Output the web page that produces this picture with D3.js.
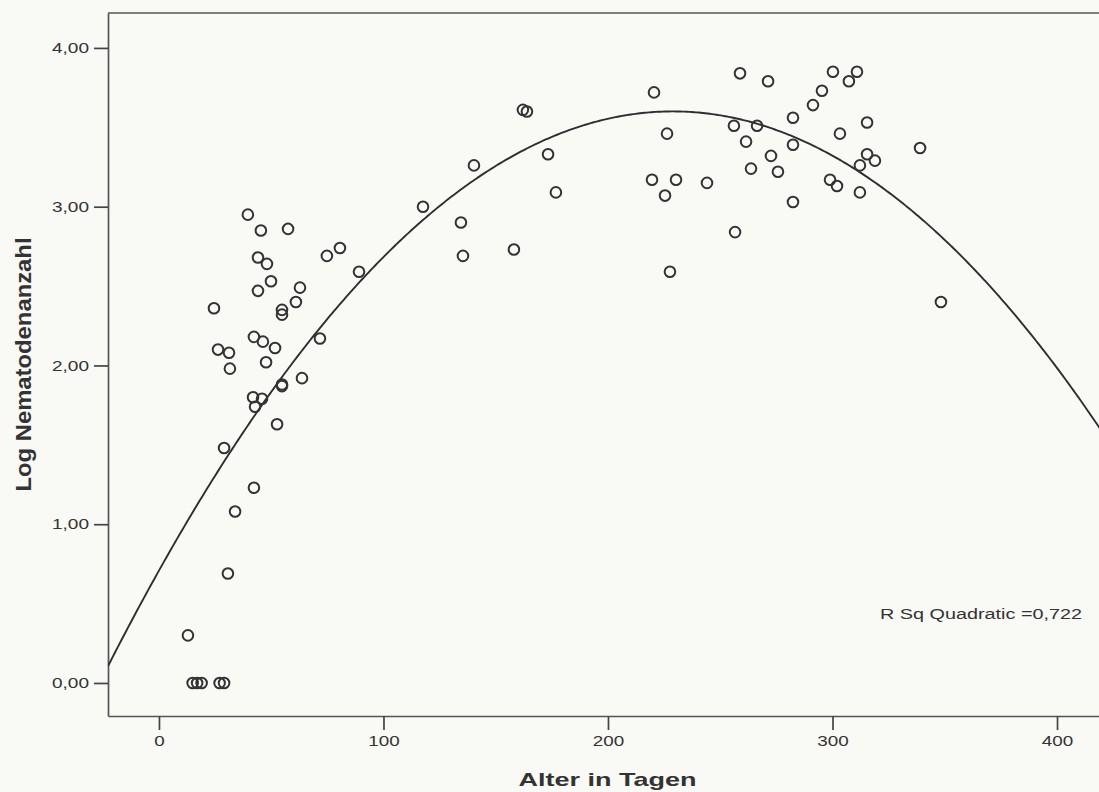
<!DOCTYPE html>
<html lang="de">
<head>
<meta charset="UTF-8">
<title>Log Nematodenanzahl nach Alter</title>
<script src="https://cdn.jsdelivr.net/npm/d3@7"></script>
<style>
body { margin: 0; background: #f9f9f6; }
text { font-family: "Liberation Sans", Arial, sans-serif; fill: #333; }
</style>
</head>
<body>
<div id="chart"></div>
<script>
// Alter in Tagen (x) und Log Nematodenanzahl (y)
const ages = [
  12.9, 15, 17, 19, 27, 29, 30.7, 33.9, 42.3, 29, 52.6, 42.8, 41.9, 45.9, 54.8, 54.8,
  63.7, 31.6, 47.7, 26.3, 31.2, 51.7, 46.3, 42.3, 71.7, 24.5, 54.8, 54.8, 61, 44.1,
  62.8, 49.9, 48.1, 44.1, 45.4, 57.5, 39.6, 74.8, 80.6, 89.1,
  117.6, 134.5, 135.4, 140.3, 158.1, 162.1, 163.9, 173.3, 176.8,
  219.6, 220.5, 225.4, 226.3, 227.6, 230.3, 244.1, 256.1, 256.6, 258.8, 261.5, 263.7,
  266.4, 271.3, 272.6, 275.7, 282.4, 282.4, 282.4, 291.3, 295.3, 298.9, 300.2, 302,
  303.3, 307.3, 310.9, 312.2, 312.2, 315.4, 315.4, 318.9, 339, 348.3
];
const logCounts = [
  0.30, 0, 0, 0, 0, 0, 0.69, 1.08, 1.23, 1.48, 1.63, 1.74, 1.80, 1.79, 1.88, 1.87,
  1.92, 1.98, 2.02, 2.10, 2.08, 2.11, 2.15, 2.18, 2.17, 2.36, 2.35, 2.32, 2.40, 2.47,
  2.49, 2.53, 2.64, 2.68, 2.85, 2.86, 2.95, 2.69, 2.74, 2.59,
  3.00, 2.90, 2.69, 3.26, 2.73, 3.61, 3.60, 3.33, 3.09,
  3.17, 3.72, 3.07, 3.46, 2.59, 3.17, 3.15, 3.51, 2.84, 3.84, 3.41, 3.24,
  3.51, 3.79, 3.32, 3.22, 3.56, 3.39, 3.03, 3.64, 3.73, 3.17, 3.85, 3.13,
  3.46, 3.79, 3.85, 3.26, 3.09, 3.53, 3.33, 3.29, 3.37, 2.40
];

// quadratische Anpassung: y = b0 + b1*x + b2*x^2
const fitCoef = [0.708, 0.02527, -0.0000552];
const rSquareLabel = "R Sq Quadratic =0,722";

const xTicks = [0, 100, 200, 300, 400];
const yTicks = [0, 1, 2, 3, 4];

const width = 1099;
const height = 792;
const margin = {top: 13, right: 0, bottom: 76, left: 108};

const x = d3.scaleLinear()
  .domain([-22.7, 418.7])
  .range([margin.left, width - margin.right]);
const y = d3.scaleLinear()
  .domain([-0.208, 4.22])
  .range([height - margin.bottom, margin.top]);

const de = d3.formatLocale({decimal: ",", thousands: ".", grouping: [3], currency: ["", " €"]});
const fmt2 = de.format(".2f");

const svg = d3.select("#chart").append("svg")
  .attr("width", width)
  .attr("height", height);

svg.append("defs").append("clipPath")
  .attr("id", "plot-clip")
  .append("rect")
  .attr("x", margin.left)
  .attr("y", margin.top)
  .attr("width", width - margin.left - margin.right)
  .attr("height", height - margin.top - margin.bottom);

// Achsen
const xAxis = svg.append("g")
  .attr("transform", `translate(0,${height - margin.bottom})`)
  .call(d3.axisBottom(x).tickValues(xTicks).tickSize(14).tickSizeOuter(0).tickPadding(6));
const yAxis = svg.append("g")
  .attr("transform", `translate(${margin.left},0)`)
  .call(d3.axisLeft(y).tickValues(yTicks).tickFormat(fmt2).tickSize(14).tickSizeOuter(0).tickPadding(5));

[xAxis, yAxis].forEach(g => {
  g.select(".domain").attr("stroke", "#555").attr("stroke-width", 1.7);
  g.selectAll(".tick line").attr("stroke", "#444").attr("stroke-width", 1.7);
  g.selectAll(".tick text")
    .attr("fill", "#333")
    .style("font-size", "14.5px")
    .attr("font-family", null);
});
xAxis.selectAll(".tick text").attr("transform", "scale(1.3,1)");
yAxis.selectAll(".tick text").attr("textLength", 37).attr("lengthAdjust", "spacingAndGlyphs");

// Rahmen oben
svg.append("line")
  .attr("x1", margin.left).attr("x2", width)
  .attr("y1", margin.top).attr("y2", margin.top)
  .attr("stroke", "#555").attr("stroke-width", 1.7);

const plot = svg.append("g").attr("clip-path", "url(#plot-clip)");

// Regressionskurve
const fitX = d3.range(x.domain()[0], x.domain()[1] + 1, 1);
const fitLine = d3.line()
  .x(d => x(d))
  .y(d => y(fitCoef[0] + fitCoef[1] * d + fitCoef[2] * d * d));
plot.append("path")
  .datum(fitX)
  .attr("fill", "none")
  .attr("stroke", "#2e2e2e")
  .attr("stroke-width", 1.9)
  .attr("d", fitLine);

// Datenpunkte
plot.selectAll("circle")
  .data(ages.map((a, i) => ({age: a, val: logCounts[i]})))
  .join("circle")
  .attr("cx", d => x(d.age))
  .attr("cy", d => y(d.val))
  .attr("r", 5.3)
  .attr("fill", "none")
  .attr("stroke", "#333")
  .attr("stroke-width", 2);

// R Quadrat
svg.append("text")
  .attr("x", 880)
  .attr("y", 619)
  .attr("textLength", 202)
  .attr("lengthAdjust", "spacingAndGlyphs")
  .style("font-size", "14px")
  .text(rSquareLabel);

// Achsentitel
svg.append("text")
  .attr("x", (margin.left + width) / 2 + 4)
  .attr("y", 786)
  .attr("text-anchor", "middle")
  .attr("font-weight", "bold")
  .attr("textLength", 178)
  .attr("lengthAdjust", "spacingAndGlyphs")
  .style("font-size", "19px")
  .text("Alter in Tagen");

svg.append("text")
  .attr("transform", `translate(31,${(margin.top + height - margin.bottom) / 2}) rotate(-90)`)
  .attr("text-anchor", "middle")
  .attr("font-weight", "bold")
  .attr("textLength", 254)
  .attr("lengthAdjust", "spacingAndGlyphs")
  .style("font-size", "22px")
  .text("Log Nematodenanzahl");
</script>
</body>
</html>
